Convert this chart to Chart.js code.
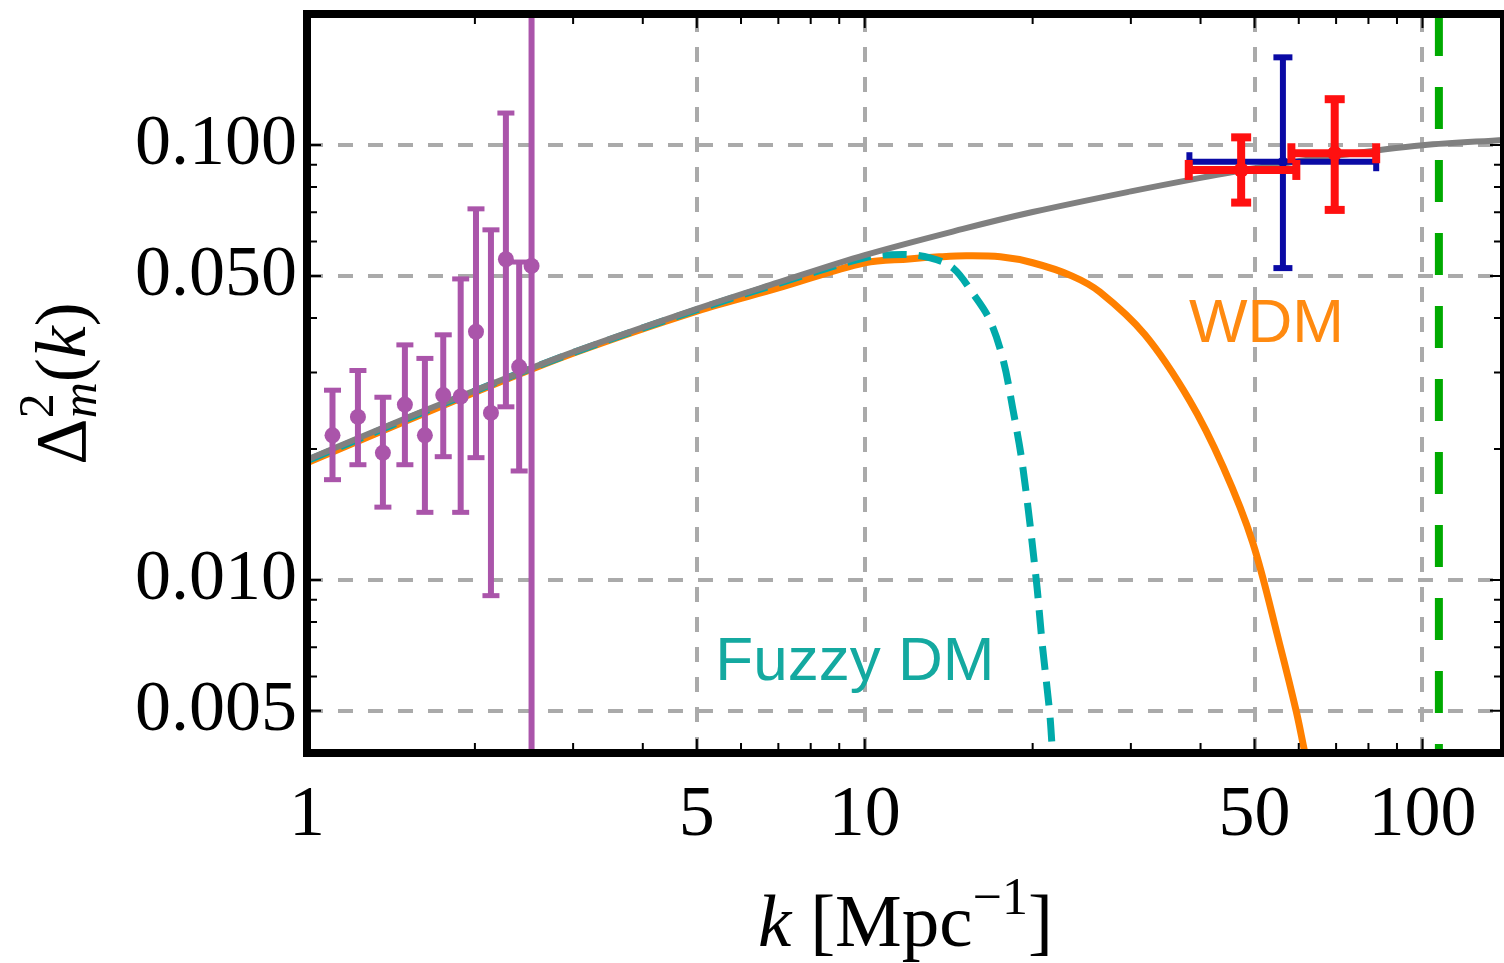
<!DOCTYPE html>
<html>
<head>
<meta charset="utf-8">
<title>Matter power spectrum</title>
<script src="https://cdn.jsdelivr.net/npm/chart.js@4/dist/chart.umd.min.js"></script>
<style>
  html, body { margin: 0; padding: 0; background: #fff; }
  canvas { display: block; }
</style>
</head>
<body>
<canvas id="powerChart" width="1504" height="963"></canvas>
<script>
// axis ranges
const K_MIN = 1
const K_MAX = 140
const D_MIN = 0.004
const D_MAX = 0.2
const K_CUT = 107

const xTicks = [1, 5, 10, 50, 100]
const xTickLabels = ['1', '5', '10', '50', '100']
const yTicks = [0.005, 0.01, 0.05, 0.1]
const yTickLabels = ['0.005', '0.010', '0.050', '0.100']
const xMinorTicks = [2, 3, 4, 6, 7, 8, 9, 20, 30, 40, 60, 70, 80, 90]
const yMinorTicks = [0.006, 0.007, 0.008, 0.009, 0.02, 0.03, 0.04, 0.06, 0.07, 0.08, 0.09]

// CDM spectrum
const cdmK = [1, 1.5, 2, 3, 5, 7, 10, 15, 20, 30, 40, 50, 70, 100, 140]
const cdmD = [0.0189, 0.0235, 0.02725, 0.0334, 0.042, 0.0483, 0.0558, 0.0641, 0.0701, 0.0782, 0.084, 0.0884, 0.0944, 0.0998, 0.1027]

// warm dark matter
const wdmK = [1, 2, 3, 5, 7, 10, 12, 13.6, 15.2, 17.5, 20, 23.5, 26.4, 31.8, 38.2, 43.9, 49.6, 55.4, 59.4, 61.4, 62.5]
const wdmD = [0.0186, 0.027, 0.0332, 0.0415, 0.0469, 0.0536, 0.0547, 0.0553, 0.0556, 0.0553, 0.0536, 0.05, 0.0459, 0.0366, 0.0259, 0.0182, 0.0122, 0.00715, 0.00498, 0.00406, 0.00366]

// fuzzy dark matter
const fdmK = [1, 2, 3, 5, 7, 10, 11.7, 13.1, 14.4, 15.6, 16.75, 17.7, 18.4, 19.2, 20.3, 20.8, 21.45, 21.65, 21.8]
const fdmD = [0.0188, 0.0272, 0.0333, 0.0418, 0.048, 0.055, 0.056, 0.055, 0.0521, 0.0457, 0.0396, 0.0321, 0.025, 0.0182, 0.01, 0.00716, 0.00497, 0.00422, 0.00366]

// purple measurements (vertical errors only)
const purpleK = [1.111, 1.234, 1.368, 1.498, 1.627, 1.755, 1.886, 2.009, 2.137, 2.273, 2.401, 2.527]
const purpleD = [0.0215, 0.0237, 0.0196, 0.0253, 0.0215, 0.0266, 0.0264, 0.0372, 0.0242, 0.0546, 0.0309, 0.0527]
const purpleLo = [0.017, 0.0184, 0.0147, 0.0184, 0.0143, 0.0192, 0.0143, 0.0191, 0.0092, 0.025, 0.0178, 0.001]
const purpleHi = [0.0273, 0.0303, 0.0263, 0.0347, 0.0323, 0.0366, 0.0492, 0.0713, 0.0638, 0.1184, 0.0538, 1]

// blue and red measurements (errors in both k and D)
const blueK = [56.2]
const blueKLo = [38.2]
const blueKHi = [82.6]
const blueD = [0.0915]
const blueDLo = [0.0521]
const blueDHi = [0.159]

const redK = [47.3, 69.6]
const redKLo = [38.1, 58.2]
const redKHi = [59.4, 82.6]
const redD = [0.0876, 0.0957]
const redDLo = [0.0737, 0.0709]
const redDHi = [0.1041, 0.1274]

const SERIF = '"Liberation Serif", "Times New Roman", serif'
const SANS = '"Liberation Sans", Arial, sans-serif'
const GRID = '#AAAAAA'

const toXY = (ks, ds) => ks.map((k, i) => ({ x: k, y: ds[i] }))

function withErrors(ks, ds, lo, hi, kLo, kHi) {
  return ks.map((k, i) => ({
    x: k, y: ds[i], yMin: lo[i], yMax: hi[i],
    xMin: kLo ? kLo[i] : null, xMax: kHi ? kHi[i] : null,
  }))
}

function seg(ctx, x1, y1, x2, y2) {
  ctx.beginPath()
  ctx.moveTo(x1, y1)
  ctx.lineTo(x2, y2)
  ctx.stroke()
}

// error bars are drawn just before each dataset's own markers
const errorBars = {
  id: 'errorBars',
  beforeDatasetDraw(chart, args) {
    const ds = chart.data.datasets[args.index]
    const eb = ds.errorBars
    if (!eb) return
    const { ctx, chartArea: a, scales: { x, y } } = chart
    ctx.save()
    ctx.beginPath()
    ctx.rect(a.left, a.top, a.right - a.left, a.bottom - a.top)
    ctx.clip()
    ctx.strokeStyle = ds.backgroundColor
    ctx.lineCap = 'butt'
    for (const p of ds.data) {
      const px = x.getPixelForValue(p.x)
      const py = y.getPixelForValue(p.y)
      if (p.xMin != null) {
        const l = x.getPixelForValue(p.xMin)
        const r = x.getPixelForValue(p.xMax)
        ctx.lineWidth = eb.width
        seg(ctx, l, py, r, py)
        ctx.lineWidth = eb.capThick
        seg(ctx, l, py - eb.cap / 2, l, py + eb.cap / 2)
        seg(ctx, r, py - eb.cap / 2, r, py + eb.cap / 2)
      }
      if (p.yMin != null) {
        const t = y.getPixelForValue(p.yMax)
        const b = y.getPixelForValue(p.yMin)
        ctx.lineWidth = eb.width
        seg(ctx, px, t, px, b)
        ctx.lineWidth = eb.capThick
        seg(ctx, px - eb.cap / 2, t, px + eb.cap / 2, t)
        seg(ctx, px - eb.cap / 2, b, px + eb.cap / 2, b)
      }
    }
    ctx.restore()
  },
}

function drawRuns(ctx, runs, x0, y0) {
  let x = x0
  for (const r of runs) {
    ctx.font = r.font
    ctx.fillText(r.text, x + (r.dx || 0), y0 + (r.dy || 0))
    if (!r.stack) x += ctx.measureText(r.text).width
  }
}

function runsWidth(ctx, runs) {
  let w = 0
  for (const r of runs) {
    ctx.font = r.font
    if (!r.stack) w += ctx.measureText(r.text).width
  }
  return w
}

// frame, inward minor ticks, curve labels and axis titles
const decorations = {
  id: 'decorations',
  afterDatasetsDraw(chart) {
    const { ctx, chartArea: a, scales: { x, y } } = chart
    ctx.save()

    ctx.font = `62px ${SANS}`
    ctx.textAlign = 'center'
    ctx.textBaseline = 'alphabetic'
    ctx.fillStyle = '#FF8A10'
    ctx.fillText('WDM', x.getPixelForValue(52.5), y.getPixelForValue(0.0352))
    ctx.fillStyle = '#14A9A0'
    ctx.fillText('Fuzzy DM', x.getPixelForValue(9.6), y.getPixelForValue(0.00589))

    ctx.strokeStyle = '#000'
    ctx.lineWidth = 2
    ctx.beginPath()
    const xMarks = [...xMinorTicks.map(v => [v, 10]), ...xTicks.slice(1).map(v => [v, 14])]
    for (const [v, len] of xMarks) {
      const px = x.getPixelForValue(v)
      ctx.moveTo(px, a.bottom); ctx.lineTo(px, a.bottom - len)
      ctx.moveTo(px, a.top); ctx.lineTo(px, a.top + len)
    }
    const yMarks = [...yMinorTicks.map(v => [v, 10]), ...yTicks.map(v => [v, 14])]
    for (const [v, len] of yMarks) {
      const py = y.getPixelForValue(v)
      ctx.moveTo(a.left, py); ctx.lineTo(a.left + len, py)
      ctx.moveTo(a.right, py); ctx.lineTo(a.right - len, py)
    }
    ctx.stroke()

    ctx.lineWidth = 8
    ctx.strokeRect(a.left, a.top, a.right - a.left, a.bottom - a.top)
    ctx.restore()
  },
  afterDraw(chart) {
    const { ctx, chartArea: a } = chart
    ctx.save()
    ctx.fillStyle = '#000'
    ctx.textAlign = 'left'
    ctx.textBaseline = 'alphabetic'

    const xRuns = [
      { text: 'k', font: `italic 75px ${SERIF}` },
      { text: ' [Mpc', font: `75px ${SERIF}` },
      { text: '−1', font: `52px ${SERIF}`, dy: -32 },
      { text: ']', font: `75px ${SERIF}` },
    ]
    const xw = runsWidth(ctx, xRuns)
    drawRuns(ctx, xRuns, (a.left + a.right) / 2 - xw / 2, 946)

    const yRuns = [
      { text: 'Δ', font: `72px ${SERIF}` },
      { text: '2', font: `50px ${SERIF}`, dy: -32, stack: true },
      { text: 'm', font: `italic 50px ${SERIF}`, dy: 11 },
      { text: '(', font: `72px ${SERIF}` },
      { text: 'k', font: `italic 72px ${SERIF}` },
      { text: ')', font: `72px ${SERIF}` },
    ]
    const yw = runsWidth(ctx, yRuns)
    ctx.translate(85, (a.top + a.bottom) / 2)
    ctx.rotate(-Math.PI / 2)
    drawRuns(ctx, yRuns, -yw / 2, 0)
    ctx.restore()
  },
}

const curve = (label, ks, ds, color, width, order, extra) => Object.assign({
  label,
  data: toXY(ks, ds),
  borderColor: color,
  backgroundColor: color,
  borderWidth: width,
  pointRadius: 0,
  tension: 0.35,
  order,
}, extra)

const points = (label, data, color, radius, order, errorBars) => ({
  label,
  data,
  showLine: false,
  backgroundColor: color,
  borderColor: color,
  pointBackgroundColor: color,
  pointBorderWidth: 0,
  pointRadius: radius,
  order,
  errorBars,
})

const datasets = [
  {
    label: 'k cut',
    data: [{ x: K_CUT, y: D_MAX }, { x: K_CUT, y: D_MIN }],
    borderColor: '#00AA00',
    borderWidth: 8,
    borderDash: [42, 31],
    pointRadius: 0,
    order: 10,
  },
  curve('WDM', wdmK, wdmD, '#FF8000', 7, 9),
  curve('Fuzzy DM', fdmK, fdmD, '#00AAAA', 7, 8, { borderDash: [24, 12] }),
  curve('CDM', cdmK, cdmD, '#808080', 6, 7),
  points('purple', withErrors(purpleK, purpleD, purpleLo, purpleHi), '#AA55AA', 8, 3,
    { width: 6, cap: 17, capThick: 5 }),
  points('blue', withErrors(blueK, blueD, blueDLo, blueDHi, blueKLo, blueKHi), '#0A0AA5', 5, 2,
    { width: 6, cap: 19, capThick: 6 }),
  points('red', withErrors(redK, redD, redDLo, redDHi, redKLo, redKHi), '#FF1010', 7.5, 1,
    { width: 8, cap: 20, capThick: 8 }),
]

const tickFont = { family: SERIF, size: 72 }

new Chart(document.getElementById('powerChart'), {
  type: 'line',
  data: { datasets },
  plugins: [errorBars, decorations],
  options: {
    responsive: false,
    animation: false,
    layout: { autoPadding: false, padding: { top: 14, left: 0, right: 0, bottom: 0 } },
    elements: { line: { capBezierPoints: false } },
    plugins: { legend: { display: false }, tooltip: { enabled: false } },
    scales: {
      x: {
        type: 'logarithmic',
        bounds: 'data',
        min: K_MIN,
        max: K_MAX,
        afterBuildTicks: s => { s.ticks = xTicks.map(v => ({ value: v })) },
        afterFit: s => {
          s.height = 210
          s.paddingLeft = 0
          s.paddingRight = 0
        },
        ticks: {
          autoSkip: false,
          maxRotation: 0,
          padding: 20,
          color: '#000',
          font: tickFont,
          callback: (v, i) => xTickLabels[i],
        },
        grid: { color: GRID, lineWidth: 4, drawTicks: false },
        border: { display: false, dash: [15, 15], dashOffset: -3 },
      },
      y: {
        type: 'logarithmic',
        bounds: 'data',
        min: D_MIN,
        max: D_MAX,
        afterBuildTicks: s => { s.ticks = yTicks.map(v => ({ value: v })) },
        afterFit: s => {
          s.width = 307
          s.paddingTop = 0
          s.paddingBottom = 0
        },
        ticks: {
          autoSkip: false,
          padding: 10,
          color: '#000',
          font: tickFont,
          callback: (v, i) => yTickLabels[i],
        },
        grid: { color: GRID, lineWidth: 4, drawTicks: false },
        border: { display: false, dash: [15, 15], dashOffset: -1 },
      },
    },
  },
})
</script>
</body>
</html>
